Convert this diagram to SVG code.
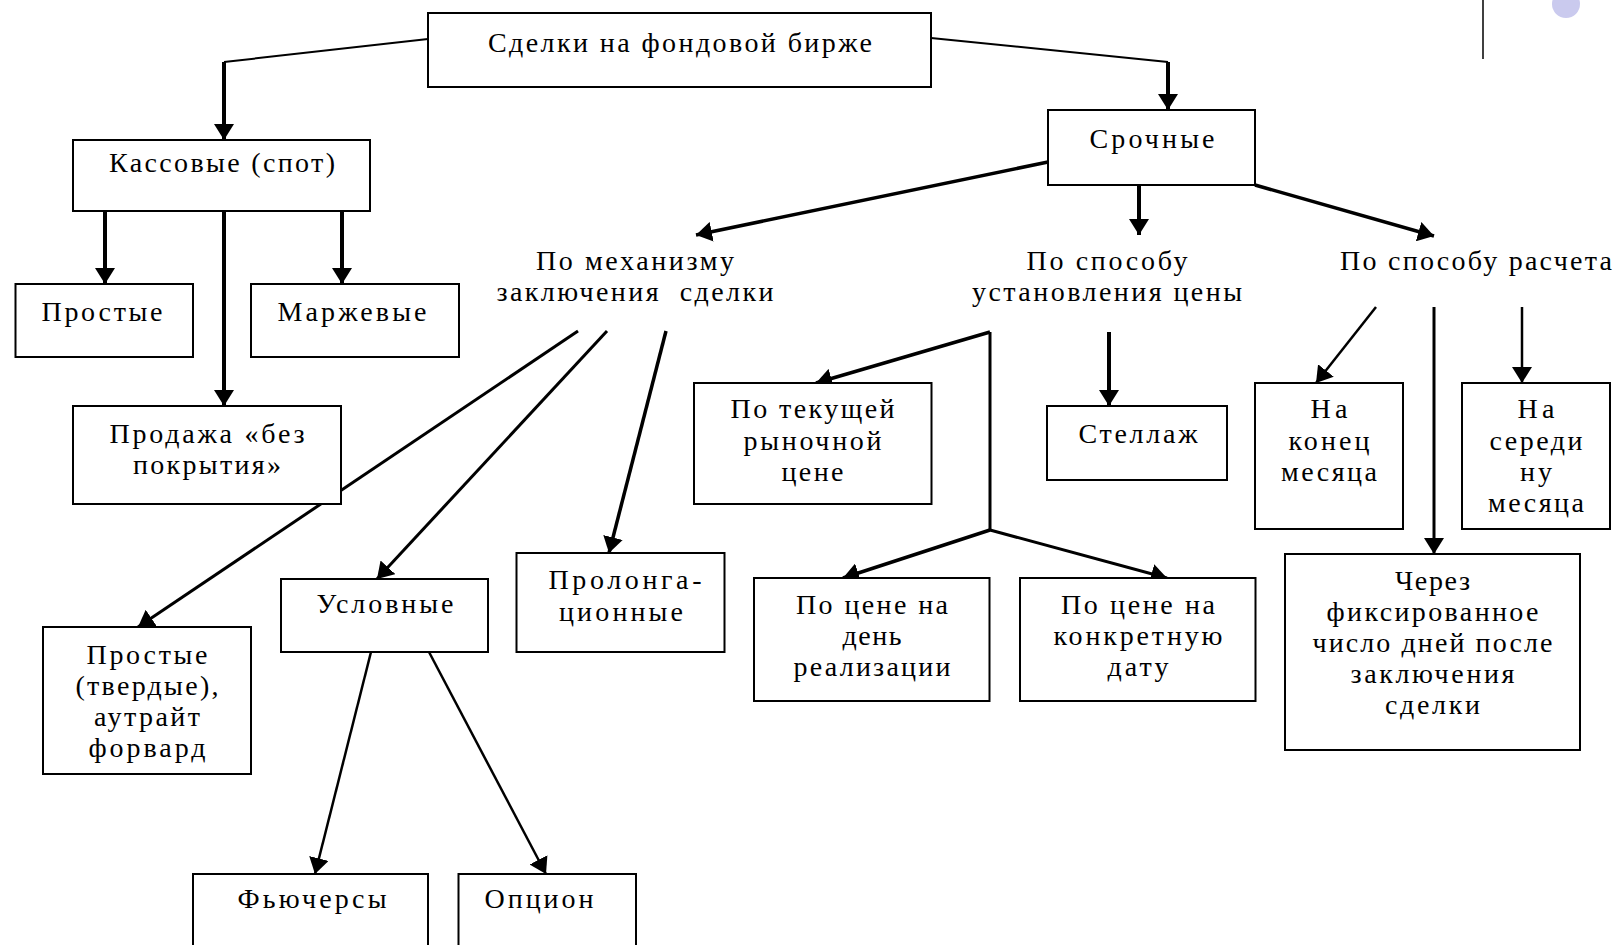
<svg xmlns="http://www.w3.org/2000/svg" width="1619" height="945" viewBox="0 0 1619 945">
<style>
.box{fill:#fff;stroke:#000;stroke-width:2}
.t{font-family:"Liberation Serif","Times New Roman",serif;font-size:28px;fill:#000;text-anchor:middle}
.c{fill:none;stroke:#000;stroke-linecap:butt}
.w2{stroke-width:2}
.w25{stroke-width:2.5}
.w3{stroke-width:3}
.w35{stroke-width:3.5}
.w4{stroke-width:4}
.a{marker-end:url(#ah)}
</style>
<defs>
<marker id="ah" markerUnits="userSpaceOnUse" markerWidth="16" markerHeight="20" viewBox="0 0 16 20" refX="16" refY="10" orient="auto"><path d="M0,0 L16,10 L0,20 z" fill="#000"/></marker>
</defs>
<rect width="1619" height="945" fill="#fff"/>
<g id="decor">
<line x1="1483" y1="0" x2="1483" y2="59" stroke="#000" stroke-width="1.5"/>
<circle cx="1566" cy="4" r="14" fill="#cacaee"/>
</g>
<g id="connectors">
<path class="c w2" d="M428,39 L224,62"/>
<path class="c w4 a" d="M224,62 L224,140"/>
<path class="c w2" d="M931,38 L1168,62"/>
<path class="c w4 a" d="M1168,62 L1168,110"/>
<path class="c w4 a" d="M105,211 L105,284"/>
<path class="c w4 a" d="M224,211 L224,406"/>
<path class="c w4 a" d="M342,211 L342,284"/>
<path class="c w35 a" d="M1048,162 L696,235"/>
<path class="c w4 a" d="M1139,185 L1139,235"/>
<path class="c w35 a" d="M1255,185 L1434,236"/>
<path class="c w3 a" d="M578,331 L138,627"/>
<path class="c w3 a" d="M607,331 L377,579"/>
<path class="c w35 a" d="M666,331 L609,553"/>
<path class="c w3" d="M990,332 L990,530"/>
<path class="c w35 a" d="M990,332 L816,383"/>
<path class="c w35 a" d="M990,530 L843,578"/>
<path class="c w3 a" d="M990,530 L1167,578"/>
<path class="c w4 a" d="M1109,332 L1109,406"/>
<path class="c w25 a" d="M1376,307 L1316,383"/>
<path class="c w3 a" d="M1434,307 L1434,554"/>
<path class="c w25 a" d="M1522,307 L1522,383"/>
<path class="c w25 a" d="M371,652 L315,874"/>
<path class="c w25 a" d="M429,652 L546,874"/>
</g>
<g id="n-root"><rect class="box" x="428" y="13" width="503" height="74"/><text class="t" x="680" y="52" textLength="384" lengthAdjust="spacing">Сделки на фондовой бирже</text></g>
<g id="n-spot"><rect class="box" x="73" y="140" width="297" height="71"/><text class="t" x="222" y="172" textLength="226" lengthAdjust="spacing">Кассовые (спот)</text></g>
<g id="n-simple"><rect class="box" x="15.5" y="284" width="177.5" height="73"/><text class="t" x="102" y="321" textLength="121" lengthAdjust="spacing">Простые</text></g>
<g id="n-margin"><rect class="box" x="251" y="284" width="208" height="73"/><text class="t" x="352" y="321" textLength="149" lengthAdjust="spacing">Маржевые</text></g>
<g id="n-short"><rect class="box" x="73" y="406" width="268" height="98"/><text class="t" x="207" y="443" textLength="195" lengthAdjust="spacing">Продажа «без</text><text class="t" x="207" y="474" textLength="148" lengthAdjust="spacing">покрытия»</text></g>
<g id="n-term"><rect class="box" x="1048" y="110" width="207" height="75"/><text class="t" x="1152" y="148" textLength="125" lengthAdjust="spacing">Срочные</text></g>
<g id="n-mech"><text class="t" x="635" y="270" textLength="198" lengthAdjust="spacing">По механизму</text><text class="t" x="635" y="301" textLength="277" lengthAdjust="spacing">заключения&#160; сделки</text></g>
<g id="n-price"><text class="t" x="1107" y="270" textLength="161" lengthAdjust="spacing">По способу</text><text class="t" x="1107" y="301" textLength="270" lengthAdjust="spacing">установления цены</text></g>
<g id="n-calc"><text class="t" x="1476" y="270" textLength="272" lengthAdjust="spacing">По способу расчета</text></g>
<g id="n-firm"><rect class="box" x="43" y="627" width="208" height="147"/><text class="t" x="147" y="664" textLength="121" lengthAdjust="spacing">Простые</text><text class="t" x="147" y="695" textLength="143" lengthAdjust="spacing">(твердые),</text><text class="t" x="147" y="726" textLength="106" lengthAdjust="spacing">аутрайт</text><text class="t" x="147" y="757" textLength="117" lengthAdjust="spacing">форвард</text></g>
<g id="n-cond"><rect class="box" x="281" y="579" width="207" height="73"/><text class="t" x="385" y="613" textLength="137" lengthAdjust="spacing">Условные</text></g>
<g id="n-prolong"><rect class="box" x="516.5" y="553" width="208" height="99"/><text class="t" x="625" y="589" textLength="153" lengthAdjust="spacing">Пролонга-</text><text class="t" x="621" y="621" textLength="124" lengthAdjust="spacing">ционные</text></g>
<g id="n-current"><rect class="box" x="694" y="383" width="237.5" height="121"/><text class="t" x="812.5" y="418" textLength="164" lengthAdjust="spacing">По текущей</text><text class="t" x="812.5" y="450" textLength="138" lengthAdjust="spacing">рыночной</text><text class="t" x="812.5" y="481" textLength="62" lengthAdjust="spacing">цене</text></g>
<g id="n-rack"><rect class="box" x="1047" y="406" width="180" height="74"/><text class="t" x="1138" y="443" textLength="119" lengthAdjust="spacing">Стеллаж</text></g>
<g id="n-dayprice"><rect class="box" x="754" y="578" width="235.5" height="123"/><text class="t" x="872" y="614" textLength="152" lengthAdjust="spacing">По цене на</text><text class="t" x="872" y="645" textLength="59" lengthAdjust="spacing">день</text><text class="t" x="872" y="676" textLength="157" lengthAdjust="spacing">реализации</text></g>
<g id="n-dateprice"><rect class="box" x="1020" y="578" width="235.5" height="123"/><text class="t" x="1138" y="614" textLength="154" lengthAdjust="spacing">По цене на</text><text class="t" x="1138" y="645" textLength="169" lengthAdjust="spacing">конкретную</text><text class="t" x="1138" y="676" textLength="61" lengthAdjust="spacing">дату</text></g>
<g id="n-endmonth"><rect class="box" x="1255" y="383" width="148" height="146"/><text class="t" x="1329" y="418" textLength="37" lengthAdjust="spacing">На</text><text class="t" x="1329" y="450" textLength="81" lengthAdjust="spacing">конец</text><text class="t" x="1329" y="481" textLength="96" lengthAdjust="spacing">месяца</text></g>
<g id="n-midmonth"><rect class="box" x="1462" y="383" width="148" height="146"/><text class="t" x="1536" y="418" textLength="37" lengthAdjust="spacing">На</text><text class="t" x="1536" y="450" textLength="93" lengthAdjust="spacing">середи</text><text class="t" x="1536" y="481" textLength="32" lengthAdjust="spacing">ну</text><text class="t" x="1536" y="512" textLength="96" lengthAdjust="spacing">месяца</text></g>
<g id="n-fixed"><rect class="box" x="1285" y="554" width="295" height="196"/><text class="t" x="1432.5" y="590" textLength="75" lengthAdjust="spacing">Через</text><text class="t" x="1432.5" y="621" textLength="212" lengthAdjust="spacing">фиксированное</text><text class="t" x="1432.5" y="652" textLength="240" lengthAdjust="spacing">число дней после</text><text class="t" x="1432.5" y="683" textLength="164" lengthAdjust="spacing">заключения</text><text class="t" x="1432.5" y="714" textLength="95" lengthAdjust="spacing">сделки</text></g>
<g id="n-futures"><rect class="box" x="193" y="874" width="235" height="80"/><text class="t" x="312" y="908" textLength="149" lengthAdjust="spacing">Фьючерсы</text></g>
<g id="n-option"><rect class="box" x="458.5" y="874" width="177.5" height="80"/><text class="t" x="539" y="908" textLength="109" lengthAdjust="spacing">Опцион</text></g>
</svg>
